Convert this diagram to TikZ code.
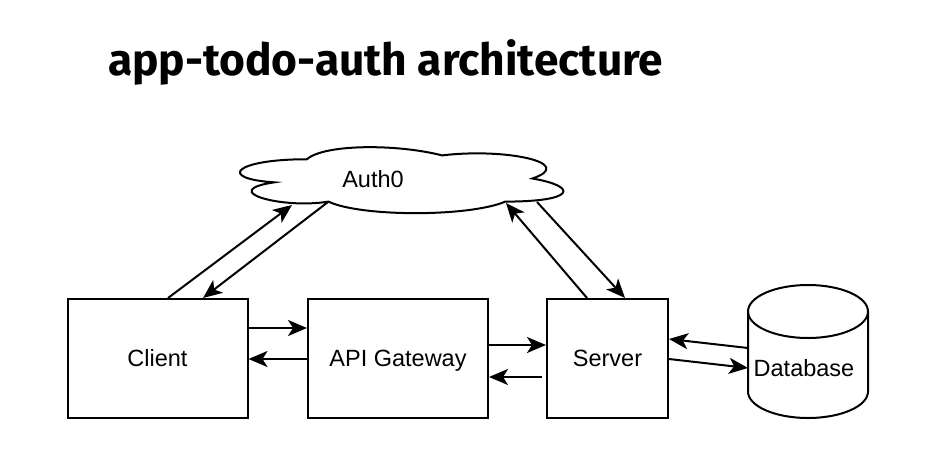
\documentclass[tikz,border=0pt]{standalone}
\usepackage{fontspec}
\setmainfont{Liberation Sans}
\newfontfamily\titlefont{Fira Sans}
\usetikzlibrary{arrows.meta}
\begin{document}
\begin{tikzpicture}[x=1pt,y=-1pt,
  line/.style={line width=2pt, draw=black},
  box/.style={line, rectangle, fill=white, minimum height=119pt, inner sep=0pt,
    text height=16.8pt, text depth=0pt, font=\fontsize{23.5}{28}\selectfont},
  lbl/.style={inner sep=0pt, text height=16.8pt, text depth=0pt, font=\fontsize{23.5}{28}\selectfont},
  conn/.style={line, -{Stealth[length=19pt,width=16pt,inset=5pt]}}]
\useasboundingbox (0,0) rectangle (934,466);
\fill[white] (0,0) rectangle (934,466);

% title
\node[anchor=base west, inner sep=0pt, font=\titlefont\bfseries\fontsize{44.3}{52}\selectfont] (title) at (108,75) {app-todo-auth architecture};

% cloud
\begin{scope}[shift={(216.5,140)}, x=361pt, y=-77pt]
\draw[line, fill=white] (0.25,0.25) .. controls (0.05,0.25) and (0,0.5) .. (0.16,0.55)
  .. controls (0,0.66) and (0.18,0.9) .. (0.31,0.8)
  .. controls (0.4,1) and (0.7,1) .. (0.8,0.8)
  .. controls (1,0.8) and (1,0.6) .. (0.875,0.5)
  .. controls (1,0.3) and (0.8,0.1) .. (0.625,0.2)
  .. controls (0.5,0.05) and (0.3,0.05) .. (0.25,0.25) -- cycle;
\end{scope}
\node[lbl] (auth) at (373,179) {Auth0};

% database cylinder
\fill[white] (748,311.5) -- (748,391.5) arc[start angle=180, end angle=360, x radius=60pt, y radius=26.5pt] -- (868,311.5) -- cycle;
\draw[line, fill=white] (808,311.5) ellipse [x radius=60pt, y radius=26.5pt];
\draw[line] (748,311.5) -- (748,391.5) arc[start angle=180, end angle=360, x radius=60pt, y radius=26.5pt] -- (868,311.5);
\node[lbl] (db) at (804,368) {Database};

% boxes
\node[box, minimum width=180pt] (cli) at (157.5,358.5) {Client};
\node[box, minimum width=180pt] (api) at (398,358.5) {API Gateway};
\node[box, minimum width=121pt] (srv) at (607.5,358.5) {Server};

% cloud anchor points
\coordinate (cl1) at (292,205);
\coordinate (cl2) at (328,202);
\coordinate (cl3) at (506,203);
\coordinate (cl4) at (537,202);
\coordinate (dbA) at (748,348);
\coordinate (dbB) at (748,368);

% connectors
\draw[conn] ([xshift=10.5pt]cli.north) -- (cl1);
\draw[conn] (cl2) -- ([xshift=45.5pt]cli.north);
\draw[conn] ([xshift=-20.5pt]srv.north) -- (cl3);
\draw[conn] (cl4) -- ([xshift=17.5pt]srv.north);

\draw[conn] ([yshift=30.5pt]cli.east) -- ([yshift=30.5pt]api.west);
\draw[conn] ([yshift=-0.5pt]api.west) -- ([yshift=-0.5pt]cli.east);
\draw[conn] ([yshift=13.5pt]api.east) -- ([yshift=13.5pt]srv.west);
\draw[conn] ([xshift=-4pt,yshift=-18.5pt]srv.west) -- ([yshift=-18.5pt]api.east);

\draw[conn] (dbA) -- ([yshift=19.5pt]srv.east);
\draw[conn] ([yshift=-0.5pt]srv.east) -- (dbB);
\end{tikzpicture}
\end{document}
